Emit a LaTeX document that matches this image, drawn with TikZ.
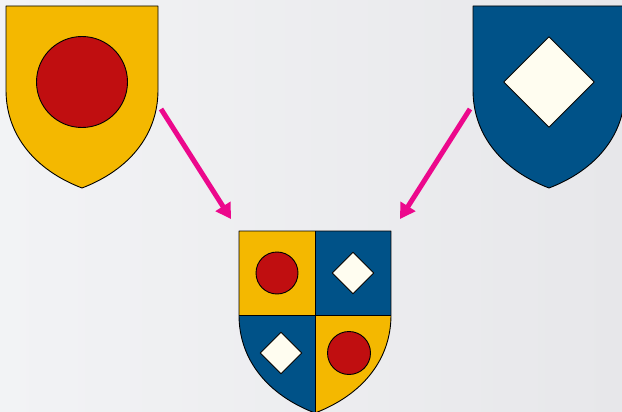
\documentclass[tikz,border=0pt]{standalone}
\usetikzlibrary{arrows.meta,shapes.geometric}
\definecolor{gold}{RGB}{244,184,0}
\definecolor{rubyred}{RGB}{192,14,16}
\definecolor{navyblue}{RGB}{0,82,136}
\definecolor{cream}{RGB}{255,253,240}
\definecolor{magentaarrow}{RGB}{236,8,140}
\definecolor{bgleft}{RGB}{242,243,245}
\definecolor{bgright}{RGB}{231,231,234}
\tikzset{
  outline/.style={draw=black, line width=0.9pt, line join=round},
  roundel/.style={circle, outline, fill=rubyred, inner sep=0pt},
  lozenge/.style={diamond, outline, fill=cream, inner sep=0pt, aspect=1},
  link/.style={draw=magentaarrow, line width=5pt, -{Triangle[length=15pt,width=17pt]}},
}
\begin{document}
\begin{tikzpicture}[x=1pt,y=-1pt]
  \useasboundingbox (0,0) rectangle (622,412);
  \clip (0,0) rectangle (622,412);
  \shade[left color=bgleft, right color=bgright] (0,0) rectangle (622,412);

  % left shield (gold with red roundel)
  \begin{scope}[shift={(6,6)}]
    \path[outline, fill=gold] (0,0) -- (152,0) -- (152,84)
      .. controls (152,129) and (123,164) .. (76,182)
      .. controls (29,164) and (0,129) .. (0,84) -- cycle;
  \end{scope}
  \node[roundel, minimum size=91pt] (c1) at (82,82) {};

  % right shield (blue with cream lozenge)
  \begin{scope}[shift={(473,6)}]
    \path[outline, fill=navyblue] (0,0) -- (152,0) -- (152,84)
      .. controls (152,129) and (123,164) .. (76,182)
      .. controls (29,164) and (0,129) .. (0,84) -- cycle;
  \end{scope}
  \node[lozenge, minimum width=91pt, minimum height=91pt] (d1) at (549,82) {};

  % bottom quartered shield
  \begin{scope}[shift={(239,231)}]
    \path[fill=gold] (0,0) rectangle (76,84);
    \path[fill=navyblue] (76,0) rectangle (152,84);
    \path[fill=navyblue] (0,84) .. controls (0,129) and (29,164) .. (76,182) -- (76,84) -- cycle;
    \path[fill=gold] (152,84) .. controls (152,129) and (123,164) .. (76,182) -- (76,84) -- cycle;
    \draw[outline] (76,0) -- (76,182);
    \draw[outline] (0,84) -- (152,84);
    \path[outline] (0,0) -- (152,0) -- (152,84)
      .. controls (152,129) and (123,164) .. (76,182)
      .. controls (29,164) and (0,129) .. (0,84) -- cycle;
  \end{scope}
  \node[roundel, minimum size=42pt] (c2) at (277,273) {};
  \node[lozenge, minimum width=42pt, minimum height=42pt] (d2) at (353,273) {};
  \node[lozenge, minimum width=42pt, minimum height=42pt] (d3) at (281,353) {};
  \node[roundel, minimum size=43pt] (c3) at (349,353) {};

  % arrows
  \coordinate (la) at (161,109);
  \coordinate (lb) at (231,219);
  \coordinate (ra) at (470,109);
  \coordinate (rb) at (400,219);
  \draw[link] (la) -- (lb);
  \draw[link] (ra) -- (rb);
\end{tikzpicture}
\end{document}
